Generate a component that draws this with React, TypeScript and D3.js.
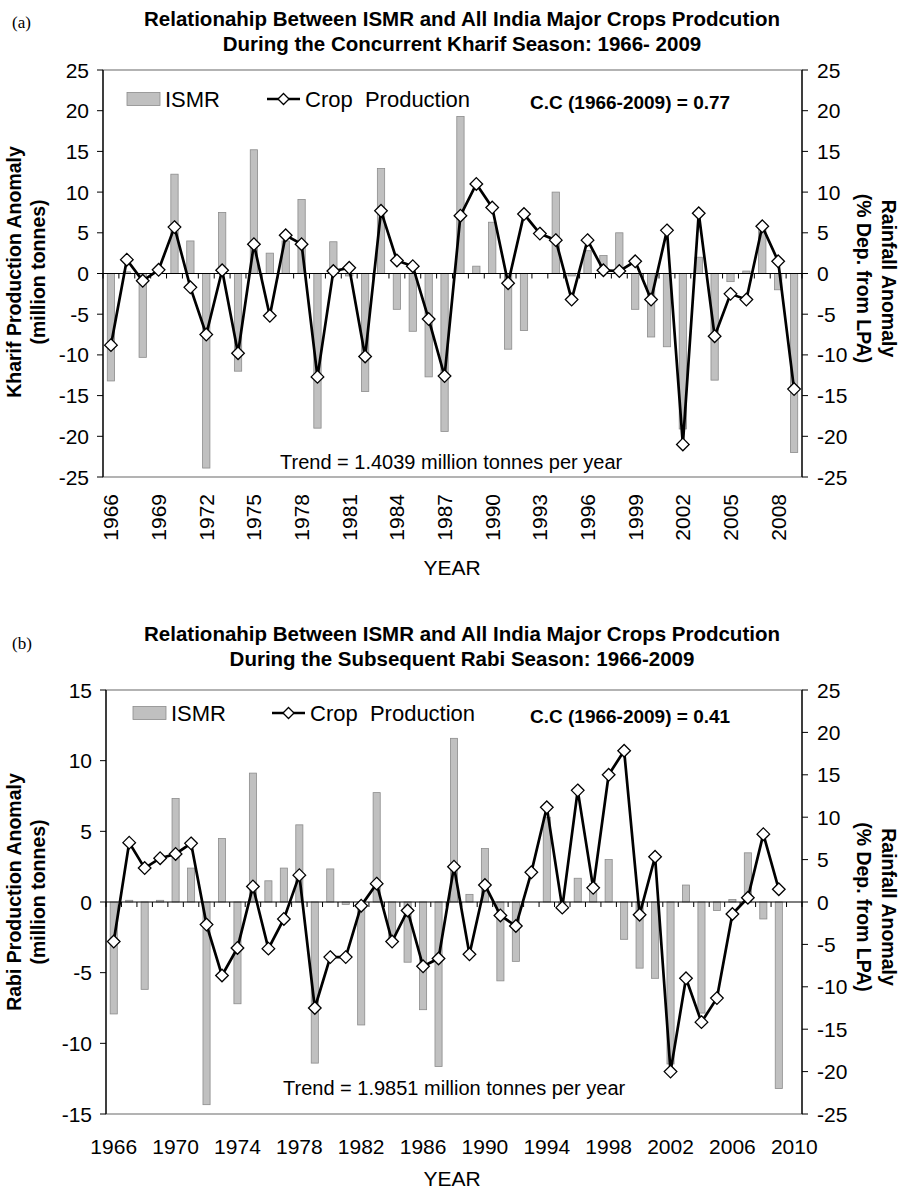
import React from "react";
import * as d3 from "d3";

const yearsA = [1966,1967,1968,1969,1970,1971,1972,1973,1974,1975,1976,1977,1978,1979,1980,1981,1982,1983,1984,1985,1986,1987,1988,1989,1990,1991,1992,1993,1994,1995,1996,1997,1998,1999,2000,2001,2002,2003,2004,2005,2006,2007,2008,2009];
const yearsB = [...yearsA, 2010];

const ismr = [-13.2,0.2,-10.3,0.2,12.2,4.0,-23.9,7.5,-12.0,15.2,2.5,4.0,9.1,-19.0,3.9,-0.3,-14.5,12.9,-4.4,-7.1,-12.7,-19.4,19.3,0.9,6.3,-9.3,-7.0,0.0,10.0,-0.3,2.8,2.2,5.0,-4.4,-7.8,-9.0,-19.1,2.0,-13.1,-1.0,0.3,5.8,-2.0,-22.0];

const kharif = [-8.8,1.7,-0.9,0.45,5.7,-1.7,-7.5,0.4,-9.8,3.6,-5.2,4.7,3.6,-12.7,0.3,0.7,-10.2,7.7,1.6,0.9,-5.6,-12.6,7.1,11.0,8.1,-1.2,7.3,4.9,4.1,-3.2,4.1,0.4,0.3,1.5,-3.2,5.3,-21.0,7.4,-7.7,-2.5,-3.2,5.8,1.5,-14.2];

const rabi = [-2.8,4.2,2.4,3.1,3.4,4.15,-1.6,-5.2,-3.25,1.1,-3.3,-1.2,1.9,-7.5,-3.9,-3.9,-0.26,1.3,-2.8,-0.6,-4.55,-4.0,2.5,-3.7,1.2,-0.95,-1.7,2.1,6.7,-0.4,7.9,1.0,9.0,10.7,-0.9,3.2,-12.0,-5.4,-8.5,-6.8,-0.85,0.3,4.8,0.9];

const ticksKharif = [25,20,15,10,5,0,-5,-10,-15,-20,-25];
const ticksRabi = [15,10,5,0,-5,-10,-15];
const ticksRain = [25,20,15,10,5,0,-5,-10,-15,-20,-25];

const labelsA = [1966,1969,1972,1975,1978,1981,1984,1987,1990,1993,1996,1999,2002,2005,2008];
const labelsB = [1966,1970,1974,1978,1982,1986,1990,1994,1998,2002,2006,2010];

const FONT = "'Liberation Sans', Arial, Helvetica, sans-serif";

type PanelProps = {
  top: number; bottom: number; left: number; right: number;
  cats: number[]; line: number[]; leftDomain: [number, number]; leftTicks: number[];
  rotated: boolean; labels: number[];
  tag: string; title1: string; title2: string; titleY: number; tagY: number;
  yTitle1: string; yTitle2: string; yTitleCenter: number;
  cc: string; trend: string; legendY: number; trendY: number; yearY: number;
  swatchX: number; lineLegX: number; ccX: number; trendX: number;
};

function Diamond({ x, y, r = 6.3 }: { x: number; y: number; r?: number }) {
  return (
    <path d={`M${x},${y - r}L${x + r},${y}L${x},${y + r}L${x - r},${y}Z`} fill="#fff" stroke="#000" strokeWidth={1.3} />
  );
}

function Panel(p: PanelProps) {
  const x = d3.scaleBand<number>().domain(p.cats).range([p.left, p.right]).paddingInner(0).paddingOuter(0);
  const yL = d3.scaleLinear().domain(p.leftDomain).range([p.bottom, p.top]);
  const yR = d3.scaleLinear().domain([-25, 25]).range([p.bottom, p.top]);
  const bw = x.bandwidth();
  const barW = bw * 0.46;
  const cx = (yr: number) => (x(yr) as number) + bw / 2;
  const lineGen = d3.line<number>().x((_, i) => cx(p.cats[i])).y((d) => yL(d));
  const zeroY = yR(0);
  const boundaries = d3.range(p.cats.length + 1).map((i) => p.left + i * bw);
  const midY = p.yTitleCenter;
  const rMid = (p.top + p.bottom) / 2 + 5;
  return (
    <g fontFamily={FONT}>
      <text x={12} y={p.tagY} fontFamily="'Liberation Serif', 'Times New Roman', serif" fontSize={17} dominantBaseline="central">{p.tag}</text>
      <text x={462} y={p.titleY} textAnchor="middle" fontWeight="bold" fontSize={20.5} dominantBaseline="central">{p.title1}</text>
      <text x={462} y={p.titleY + 25} textAnchor="middle" fontWeight="bold" fontSize={20.5} dominantBaseline="central">{p.title2}</text>

      <rect x={p.left} y={p.top} width={p.right - p.left} height={p.bottom - p.top} fill="#fff" stroke="#808080" strokeWidth={1.2} />

      {p.cats.map((yr, i) => i < ismr.length ? (
        <rect key={yr} x={cx(yr) - barW / 2} y={Math.min(yR(ismr[i]), zeroY)} width={barW}
          height={Math.abs(yR(ismr[i]) - zeroY)} fill="#c0c0c0" stroke="#8c8c8c" strokeWidth={0.8} />
      ) : null)}

      <line x1={p.left} x2={p.right} y1={zeroY} y2={zeroY} stroke="#000" strokeWidth={1.2} />
      {boundaries.map((bx, i) => (
        <line key={i} x1={bx} x2={bx} y1={zeroY} y2={zeroY + 5} stroke="#000" strokeWidth={1} />
      ))}

      <path d={lineGen(p.line) || ""} fill="none" stroke="#000" strokeWidth={2.7} strokeLinejoin="miter" />
      {p.line.map((v, i) => <Diamond key={i} x={cx(p.cats[i])} y={yL(v)} />)}

      <line x1={p.left} x2={p.left} y1={p.top} y2={p.bottom} stroke="#000" strokeWidth={1.3} />
      {p.leftTicks.map((t) => (
        <g key={t}>
          <line x1={p.left - 6} x2={p.left} y1={yL(t)} y2={yL(t)} stroke="#000" strokeWidth={1} />
          <text x={p.left - 14} y={yL(t)} textAnchor="end" dominantBaseline="central" fontSize={21}>{t}</text>
        </g>
      ))}
      <line x1={p.right} x2={p.right} y1={p.top} y2={p.bottom} stroke="#000" strokeWidth={1.3} />
      {ticksRain.map((t) => (
        <g key={t}>
          <line x1={p.right} x2={p.right + 6} y1={yR(t)} y2={yR(t)} stroke="#000" strokeWidth={1} />
          <text x={p.right + 15} y={yR(t)} textAnchor="start" dominantBaseline="central" fontSize={21}>{t}</text>
        </g>
      ))}

      {p.labels.map((yr) => p.rotated ? (
        <text key={yr} transform={`translate(${cx(yr)},${p.bottom + 17}) rotate(-90)`} textAnchor="end" dominantBaseline="central" fontSize={21}>{yr}</text>
      ) : (
        <text key={yr} x={cx(yr)} y={p.bottom + 32} textAnchor="middle" dominantBaseline="central" fontSize={21}>{yr}</text>
      ))}
      <text x={452} y={p.yearY} textAnchor="middle" dominantBaseline="central" fontSize={21}>YEAR</text>

      <text transform={`translate(14,${midY}) rotate(-90)`} textAnchor="middle" dominantBaseline="central" fontWeight="bold" fontSize={19.5}>{p.yTitle1}</text>
      <text transform={`translate(38,${midY}) rotate(-90)`} textAnchor="middle" dominantBaseline="central" fontWeight="bold" fontSize={19.5}>{p.yTitle2}</text>
      <text transform={`translate(889,${rMid}) rotate(90)`} textAnchor="middle" dominantBaseline="central" fontWeight="bold" fontSize={19.5}>Rainfall Anomaly</text>
      <text transform={`translate(864,${rMid}) rotate(90)`} textAnchor="middle" dominantBaseline="central" fontWeight="bold" fontSize={19.5}>(% Dep. from LPA)</text>

      <rect x={p.swatchX} y={p.legendY - 6.5} width={33} height={13} fill="#c0c0c0" stroke="#8c8c8c" strokeWidth={0.8} />
      <text x={p.swatchX + 38} y={p.legendY} dominantBaseline="central" fontSize={22}>ISMR</text>
      <line x1={p.lineLegX} x2={p.lineLegX + 33} y1={p.legendY} y2={p.legendY} stroke="#000" strokeWidth={2.7} />
      <Diamond x={p.lineLegX + 16.5} y={p.legendY} r={5.5} />
      <text x={p.lineLegX + 38} y={p.legendY} dominantBaseline="central" fontSize={22} style={{ whiteSpace: "pre" }}>{"Crop  Production"}</text>
      <text x={p.ccX} y={p.legendY + 3} dominantBaseline="central" fontSize={19} fontWeight="bold">{p.cc}</text>

      <text x={p.trendX} y={p.trendY} dominantBaseline="central" fontSize={20}>{p.trend}</text>
    </g>
  );
}

export default function App() {
  return (
    <svg width={902} height={1195} style={{ position: "absolute", left: 0, top: 0, background: "#fff" }}>
      <rect width={902} height={1195} fill="#fff" />
      <Panel top={70} bottom={477} left={103} right={802} cats={yearsA} line={kharif}
        leftDomain={[-25, 25]} leftTicks={ticksKharif} rotated={true} labels={labelsA}
        tag="(a)" title1="Relationahip Between ISMR and All India  Major Crops Prodcution"
        title2="During the Concurrent Kharif Season: 1966- 2009" titleY={18} tagY={22}
        yTitle1="Kharif Production Anomaly" yTitle2="(million tonnes)" yTitleCenter={272}
        cc="C.C (1966-2009) = 0.77" trend="Trend = 1.4039 million tonnes per year"
        legendY={99} trendY={462} yearY={567} swatchX={127} lineLegX={267} ccX={530} trendX={280} />
      <Panel top={690} bottom={1114} left={106} right={802} cats={yearsB} line={rabi}
        leftDomain={[-15, 15]} leftTicks={ticksRabi} rotated={false} labels={labelsB}
        tag="(b)" title1="Relationahip Between ISMR and All India Major Crops Prodcution"
        title2="During the Subsequent Rabi Season: 1966-2009" titleY={633} tagY={643}
        yTitle1="Rabi Production Anomaly" yTitle2="(million tonnes)" yTitleCenter={892}
        cc="C.C (1966-2009) = 0.41" trend="Trend = 1.9851 million tonnes per year"
        legendY={713} trendY={1088} yearY={1178} swatchX={133} lineLegX={272} ccX={530} trendX={283} />
    </svg>
  );
}
